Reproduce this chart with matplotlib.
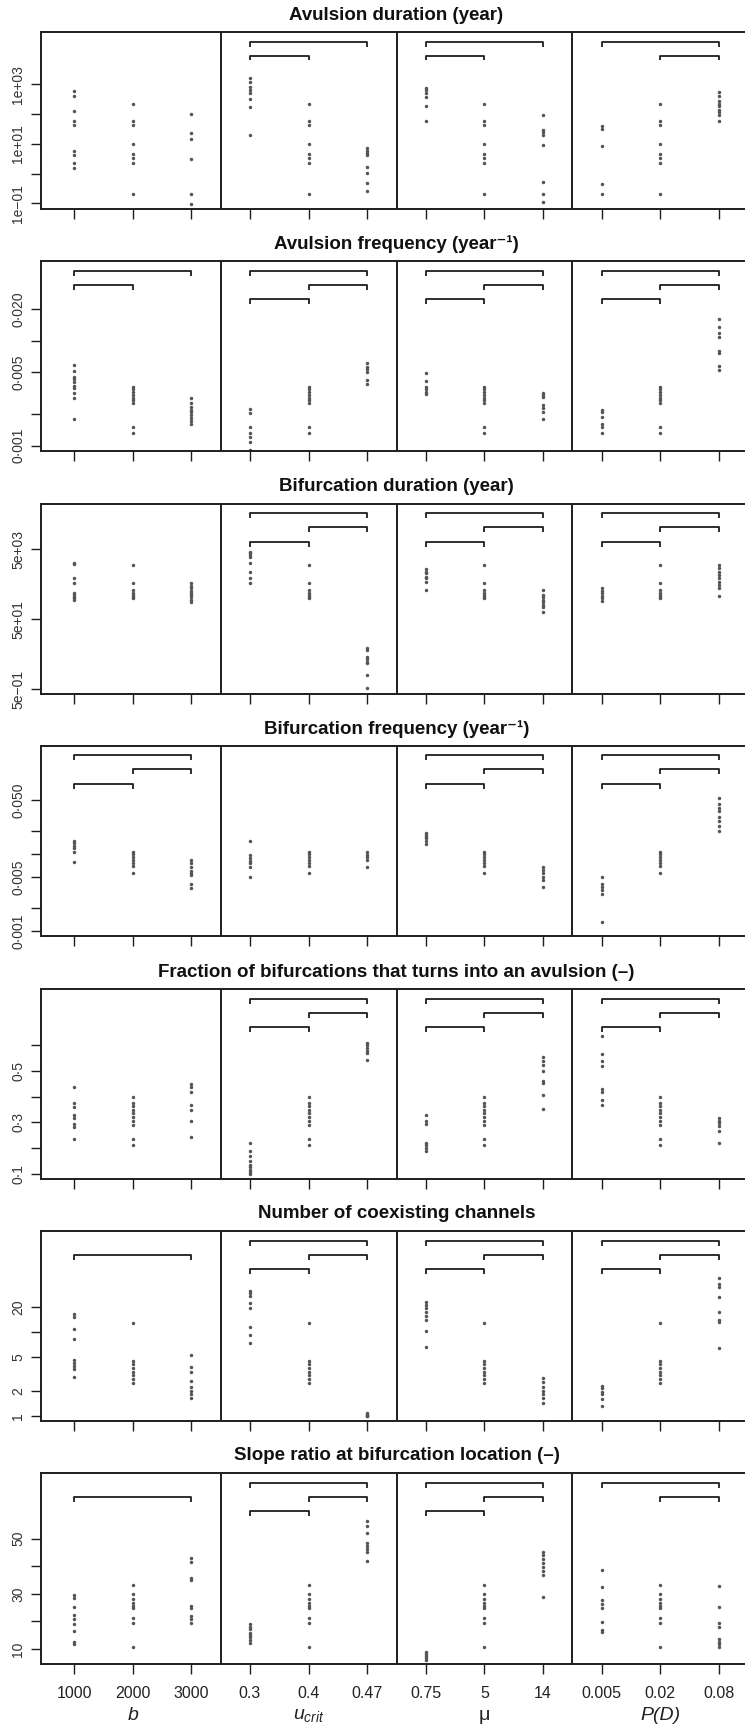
import numpy as np
import matplotlib.pyplot as plt

plt.rcParams['mathtext.fontset'] = 'custom'
plt.rcParams['mathtext.rm'] = 'Liberation Sans'
plt.rcParams['mathtext.it'] = 'Liberation Sans:italic'
plt.rcParams['mathtext.bf'] = 'Liberation Sans:bold'

SANS = ['Liberation Sans', 'DejaVu Sans']

# factor levels (x axis)
level_labels = ['1000', '2000', '3000', '0.3', '0.4', '0.47',
                '0.75', '5', '14', '0.005', '0.02', '0.08']
factor_names = [r'$b$', r'$u_{crit}$', 'μ', 'P(D)']

titles = ['Avulsion duration (year)',
          'Avulsion frequency (year⁻¹)',
          'Bifurcation duration (year)',
          'Bifurcation frequency (year⁻¹)',
          'Fraction of bifurcations that turns into an avulsion (–)',
          'Number of coexisting channels',
          'Slope ratio at bifurcation location (–)']

# avulsion duration
avd_base = [220, 56, 41, 10, 4.5, 3.3, 2.2, 0.21]
avd_low = [[571, 388, 121, 56, 41, 5.5, 4.2, 2.2, 1.5],
           [1620, 1150, 805, 618, 505, 318, 171, 20],
           [745, 618, 505, 371, 179, 59],
           [40, 31, 8.5, 0.44, 0.21]]
avd_high = [[102, 23, 14.6, 3.1, 0.21, 0.095],
            [7.1, 5.9, 4.8, 4.2, 1.7, 1.07, 0.47, 0.25],
            [89, 29, 24, 20, 9.2, 0.53, 0.21, 0.11],
            [530, 388, 264, 220, 179, 138, 116, 94, 56]]

# avulsion frequency
avf_base = [0.00365, 0.00344, 0.00327, 0.00304, 0.00283, 0.00272, 0.00257, 0.0015, 0.00131]
avf_low = [[0.00588, 0.00518, 0.00454, 0.00429, 0.00407, 0.00373, 0.00352, 0.0032, 0.00282, 0.00179],
           [0.00222, 0.00204, 0.0015, 0.00131, 0.0012, 0.00109, 0.00091],
           [0.00496, 0.00416, 0.00365, 0.00344, 0.00327, 0.00309],
           [0.00219, 0.00208, 0.00189, 0.00161, 0.00152, 0.00131]]
avf_high = [[0.00283, 0.00254, 0.00235, 0.00219, 0.00208, 0.00196, 0.00182, 0.00172, 0.00161],
            [0.00617, 0.00565, 0.00534, 0.00507, 0.00423, 0.00387],
            [0.0032, 0.00304, 0.00289, 0.00244, 0.00227, 0.0021, 0.00179],
            [0.0161, 0.0134, 0.0118, 0.0108, 0.00798, 0.00769, 0.00574, 0.00526]]

# bifurcation duration
bfd_base = [1780, 556, 344, 288, 247, 221, 199]
bfd_low = [[2070, 1900, 741, 556, 288, 247, 221, 199, 178],
           [4270, 3840, 3440, 3080, 1990, 1150, 741, 556],
           [1340, 1150, 1030, 824, 741, 593, 344],
           [384, 328, 277, 232, 199, 170]]
bfd_high = [[534, 447, 384, 328, 288, 247, 213, 178, 156],
            [7.7, 6.6, 4.3, 3.6, 3.1, 2.8, 1.28, 0.53],
            [344, 247, 213, 178, 153, 128, 110, 82],
            [1780, 1430, 1150, 923, 741, 593, 477, 384, 232]]

# bifurcation frequency
bff_base = [0.0107, 0.00997, 0.0092, 0.00834, 0.00755, 0.00703, 0.0056]
bff_low = [[0.0147, 0.0137, 0.0128, 0.0118, 0.0107, 0.00778],
           [0.0147, 0.00967, 0.00893, 0.00809, 0.00755, 0.00682, 0.00506],
           [0.0185, 0.0176, 0.0167, 0.0159, 0.0147, 0.0133],
           [0.00506, 0.00403, 0.00376, 0.0034, 0.00299, 0.00132]]
bff_high = [[0.00834, 0.00755, 0.00682, 0.006, 0.0056, 0.00532, 0.00403, 0.00358],
            [0.0105, 0.00967, 0.00902, 0.00834, 0.00682],
            [0.00682, 0.00618, 0.0056, 0.00506, 0.00458, 0.00376],
            [0.0526, 0.044, 0.0398, 0.036, 0.0304, 0.0267, 0.0232, 0.02]]

# fraction of bifurcations turning into avulsions
frac_base = [0.397, 0.375, 0.362, 0.349, 0.336, 0.320, 0.307, 0.289, 0.237, 0.214]
frac_low = [[0.436, 0.375, 0.359, 0.330, 0.317, 0.294, 0.281, 0.237],
            [0.220, 0.188, 0.169, 0.149, 0.136, 0.126, 0.117, 0.108, 0.100],
            [0.327, 0.307, 0.294, 0.220, 0.211, 0.201, 0.188],
            [0.634, 0.565, 0.537, 0.517, 0.431, 0.418, 0.388, 0.369]]
frac_high = [[0.449, 0.436, 0.417, 0.366, 0.349, 0.304, 0.242],
             [0.608, 0.599, 0.588, 0.578, 0.569, 0.543],
             [0.552, 0.539, 0.524, 0.500, 0.462, 0.453, 0.405, 0.353],
             [0.317, 0.307, 0.298, 0.285, 0.266, 0.220]]

# number of coexisting channels
nch_base = [13, 4.57, 4.17, 3.71, 3.38, 3.08, 2.74, 2.45]
nch_low = [[16.5, 15.3, 10.8, 8.2, 4.66, 4.33, 3.95, 3.61, 2.94],
           [31.3, 29.1, 27, 22.5, 19.3, 11.6, 9.26, 7.5],
           [23.1, 21.1, 19.3, 17.6, 15.6, 14, 10.4, 6.6],
           [2.28, 2.14, 1.95, 1.83, 1.58, 1.32]]
nch_high = [[5.35, 3.81, 3.38, 2.64, 2.2, 2.0, 1.83, 1.63],
            [1.08, 1.05, 1.03, 1.01, 1.0],
            [2.82, 2.57, 2.24, 2.0, 1.83, 1.63, 1.44],
            [44, 37.6, 34.3, 26.1, 17.6, 14, 13.3, 6.4]]

# slope ratio at bifurcation
slope_base = [33.2, 29.9, 28.0, 26.8, 25.6, 24.8, 21.1, 19.5, 10.6]
slope_low = [[29.6, 28.4, 25.1, 22.3, 20.8, 19.1, 16.6, 12.6, 11.8],
             [19.1, 18.1, 17.1, 15.9, 15.1, 14.2, 13.3, 12.3],
             [9.0, 8.2, 7.5, 6.6, 6.0],
             [38.7, 32.4, 27.8, 26.3, 24.8, 19.9, 16.9, 16.3]]
slope_high = [[42.9, 41.7, 35.6, 35.0, 25.6, 24.8, 22.0, 20.8, 19.5],
              [56.5, 54.6, 52.0, 48.6, 47.4, 46.2, 45.3, 42.0],
              [45.3, 44.1, 42.5, 41.1, 39.6, 38.4, 36.8, 29.0],
              [32.9, 25.1, 19.5, 18.1, 13.5, 12.6, 11.8, 10.6]]

# significant pairs: (factor, level i, level j, stacking row)
full3 = lambda f: [(f, 0, 2, 1), (f, 1, 2, 2), (f, 0, 1, 3)]
avd_pairs = [(1, 0, 2, 1), (1, 0, 1, 2), (2, 0, 2, 1), (2, 0, 1, 2), (3, 0, 2, 1), (3, 1, 2, 2)]
avf_pairs = [(0, 0, 2, 1), (0, 0, 1, 2)] + full3(1) + full3(2) + full3(3)
bfd_pairs = full3(1) + full3(2) + full3(3)
bff_pairs = full3(0) + full3(2) + full3(3)
frac_pairs = full3(1) + full3(2) + full3(3)
nch_pairs = [(0, 0, 2, 2)] + full3(1) + full3(2) + full3(3)
slope_pairs = [(0, 0, 2, 2)] + full3(1) + full3(2) + [(3, 0, 2, 1), (3, 1, 2, 2)]

# y axes
yticks = [[0.1, 1, 10, 100, 1000],
          [0.001, 0.002, 0.005, 0.01, 0.02],
          [0.5, 50, 5000],
          [0.001, 0.002, 0.005, 0.01, 0.02, 0.05],
          [0.1, 0.2, 0.3, 0.4, 0.5, 0.6],
          [1, 2, 5, 10, 20],
          [10, 20, 30, 40, 50]]
ytick_labels = [['1e−01', '', '1e+01', '', '1e+03'],
                ['0·001', '', '0·005', '', '0·020'],
                ['5e−01', '5e+01', '5e+03'],
                ['0·001', '', '0·005', '', '', '0·050'],
                ['0·1', '', '0·3', '', '0·5', ''],
                ['1', '2', '5', '', '20'],
                ['10', '', '30', '', '50']]
log_axis = [True, True, True, True, False, True, False]
ylims = [(10**-1.19, 10**4.75), (10**-3.05, 10**-1.242), (10**-0.435, 10**4.993),
         (10**-3.065, 10**-0.601), (0.0806, 0.817), (10**-0.06, 10**2.208), (4.56, 73.8)]

panels = [(avd_base, avd_low, avd_high, avd_pairs),
          (avf_base, avf_low, avf_high, avf_pairs),
          (bfd_base, bfd_low, bfd_high, bfd_pairs),
          (bff_base, bff_low, bff_high, bff_pairs),
          (frac_base, frac_low, frac_high, frac_pairs),
          (nch_base, nch_low, nch_high, nch_pairs),
          (slope_base, slope_low, slope_high, slope_pairs)]

# panel frames in pixels from the top of the figure
W, H = 745, 1729
ax_left, ax_width = 41, 711
panel_top = [32, 261, 504, 746, 989, 1231, 1473]
panel_bot = [209, 451, 694, 936, 1179, 1421, 1664]
row_offset = {1: 9.5, 2: 23.5, 3: 38.0}

ink = '#1e1e1e'
dot = '#555555'

fig = plt.figure(figsize=(W / 100, H / 100), dpi=100)

for p, (base, low, high, pairs) in enumerate(panels):
    top, bot = panel_top[p], panel_bot[p]
    h = bot - top
    ax = fig.add_axes([ax_left / W, 1 - bot / H, ax_width / W, h / H])
    if log_axis[p]:
        ax.set_yscale('log')
    ax.set_xlim(0.437, 12.563)
    ax.set_ylim(*ylims[p])

    for f in range(4):
        groups = [low[f], base, high[f]]
        for k, vals in enumerate(groups):
            x = 3 * f + k + 1
            ax.plot(np.full(len(vals), x), vals, 'o', ms=2.5, color=dot, mec='none')

    for d in [3.5, 6.5, 9.5]:
        ax.axvline(d, color=ink, lw=1.4)

    # significance brackets
    tip = 5 / h
    for f, i, j, row in pairs:
        yb = 1 - row_offset[row] / h
        x0, x1 = 3 * f + i + 1, 3 * f + j + 1
        ax.plot([x0, x0, x1, x1], [yb - tip, yb, yb, yb - tip], color=ink, lw=1.3,
                transform=ax.get_xaxis_transform(), solid_capstyle='butt')

    ax.set_yticks(yticks[p])
    ax.set_yticklabels(ytick_labels[p], rotation=90, va='center', family=SANS,
                       fontsize=10, color='#333333')
    ax.yaxis.set_minor_locator(plt.NullLocator())
    ax.set_xticks(np.arange(1, 13))
    ax.tick_params(axis='both', direction='out', length=7.2, width=1.0, color=ink)
    ax.tick_params(axis='y', pad=4)
    if p == len(panels) - 1:
        ax.set_xticklabels(level_labels, family=SANS, fontsize=11.5, color='#222222')
        ax.tick_params(axis='x', pad=9)
        for f in range(4):
            style = 'italic' if f == 3 else 'normal'
            ax.text(3 * f + 2, -(1716 - bot) / h, factor_names[f], transform=ax.get_xaxis_transform(),
                    ha='center', va='center', family=SANS, fontsize=14, style=style, color='#222222')
    else:
        ax.set_xticklabels([])

    for side in ['left', 'bottom', 'top']:
        ax.spines[side].set_linewidth(1.4)
        ax.spines[side].set_color(ink)
    ax.spines['right'].set_visible(False)

    ax.text(0.5, 1 + 17 / h, titles[p], transform=ax.transAxes, ha='center', va='center',
            family=SANS, fontsize=13.5, fontweight='bold', color='#111111')

fig.savefig('out.png', dpi=100)
